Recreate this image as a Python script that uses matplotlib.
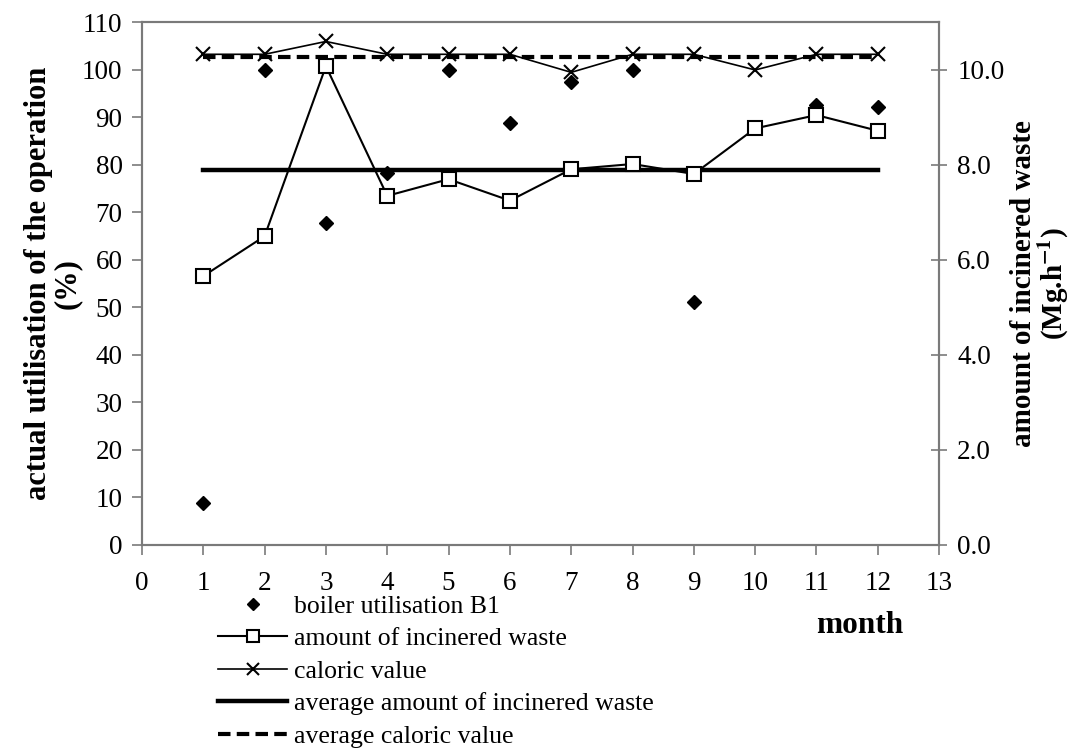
import matplotlib
matplotlib.use("Agg")
import matplotlib.pyplot as plt
import numpy as np
from matplotlib.lines import Line2D

plt.rcParams['font.family'] = ['Liberation Serif', 'DejaVu Serif']
plt.rcParams['mathtext.fontset'] = 'stix'

months = [1, 2, 3, 4, 5, 6, 7, 8, 9, 10, 11, 12]
boiler_util = [8.8, 100, 67.7, 78.4, 100, 88.9, 97.5, 100, 51.1, np.nan, 92.6, 92.1]
waste_amount = [5.66, 6.50, 10.08, 7.35, 7.70, 7.25, 7.91, 8.02, 7.81, 8.77, 9.05, 8.72]
caloric_value = [10.33, 10.33, 10.60, 10.33, 10.33, 10.33, 9.95, 10.33, 10.33, 10.00, 10.33, 10.33]
avg_waste = 7.89
avg_caloric = 10.28

left_ticks = list(range(0, 111, 10))
right_ticks = [0, 2, 4, 6, 8, 10]
x_ticks = list(range(0, 14))

fig = plt.figure(figsize=(10.77, 7.49), dpi=100)
ax = fig.add_axes([0.1318, 0.2724, 0.7402, 0.6976])
ax2 = ax.twinx()

spine_col = '#7a7a7a'

# left axis: boiler utilisation
ax.plot(months, boiler_util, linestyle='none', marker='D', markersize=7.5,
        color='black', zorder=5)
ax.set_xlim(0, 13)
ax.set_ylim(0, 110)
ax.set_yticks(left_ticks)
ax.set_xticks(x_ticks)

# right axis
ax2.set_ylim(0, 11)
ax2.set_yticks(right_ticks)
ax2.set_yticklabels([f"{v:.1f}" for v in right_ticks])
ax2.plot([months[0], months[-1]], [avg_waste, avg_waste], color='black', lw=3.2, zorder=2)
ax2.plot([months[0], months[-1]], [avg_caloric, avg_caloric], color='black', lw=3.0,
         linestyle=(0, (3, 1.5)), zorder=2)
ax2.plot(months, waste_amount, color='black', lw=1.5, marker='s', markersize=10.5,
         markerfacecolor='white', markeredgecolor='black', markeredgewidth=1.5, zorder=4)
ax2.plot(months, caloric_value, color='black', lw=1.2, marker='x', markersize=10,
         markeredgewidth=1.5, zorder=4)

for a in (ax, ax2):
    for s in a.spines.values():
        s.set_color(spine_col)
        s.set_linewidth(1.5)

ax.tick_params(axis='y', direction='out', length=7, width=1.2, color=spine_col,
               labelsize=19.5, pad=7)
ax.tick_params(axis='x', direction='out', length=7, width=1.2, color=spine_col,
               labelsize=19.5, pad=12)
ax2.tick_params(axis='y', direction='inout', length=12, width=1.2, color=spine_col,
                labelsize=19.5, pad=7)

ax.set_ylabel("actual utilisation of the operation\n(%)", fontsize=22,
              fontweight='bold', labelpad=0, linespacing=1.0)
ax2.set_ylabel("amount of incinered waste\n(Mg.h$^{\\mathbf{-1}}$)", fontsize=21,
               fontweight='bold', labelpad=4, rotation=90, linespacing=1.0)

fig.text(0.798, 0.165, "month", fontsize=22.5, fontweight='bold', ha='center', va='center')

handles = [
    Line2D([], [], linestyle='none', marker='D', markersize=6.5, color='black'),
    Line2D([], [], color='black', lw=1.5, marker='s', markersize=9,
           markerfacecolor='white', markeredgecolor='black', markeredgewidth=1.5),
    Line2D([], [], color='black', lw=1.2, marker='x', markersize=8, markeredgewidth=1.5),
    Line2D([], [], color='black', lw=3.2),
    Line2D([], [], color='black', lw=3.0, linestyle=(0, (3, 1.5))),
]
labels = ["boiler utilisation B1", "amount of incinered waste", "caloric value",
          "average amount of incinered waste", "average caloric value"]
fig.legend(handles, labels, loc='upper left', bbox_to_anchor=(0.2024, 0.206),
           frameon=False, fontsize=18.5, handlelength=2.7, handletextpad=0.25,
           labelspacing=0.37, borderpad=0, borderaxespad=0)

fig.savefig("out.png", dpi=100)
